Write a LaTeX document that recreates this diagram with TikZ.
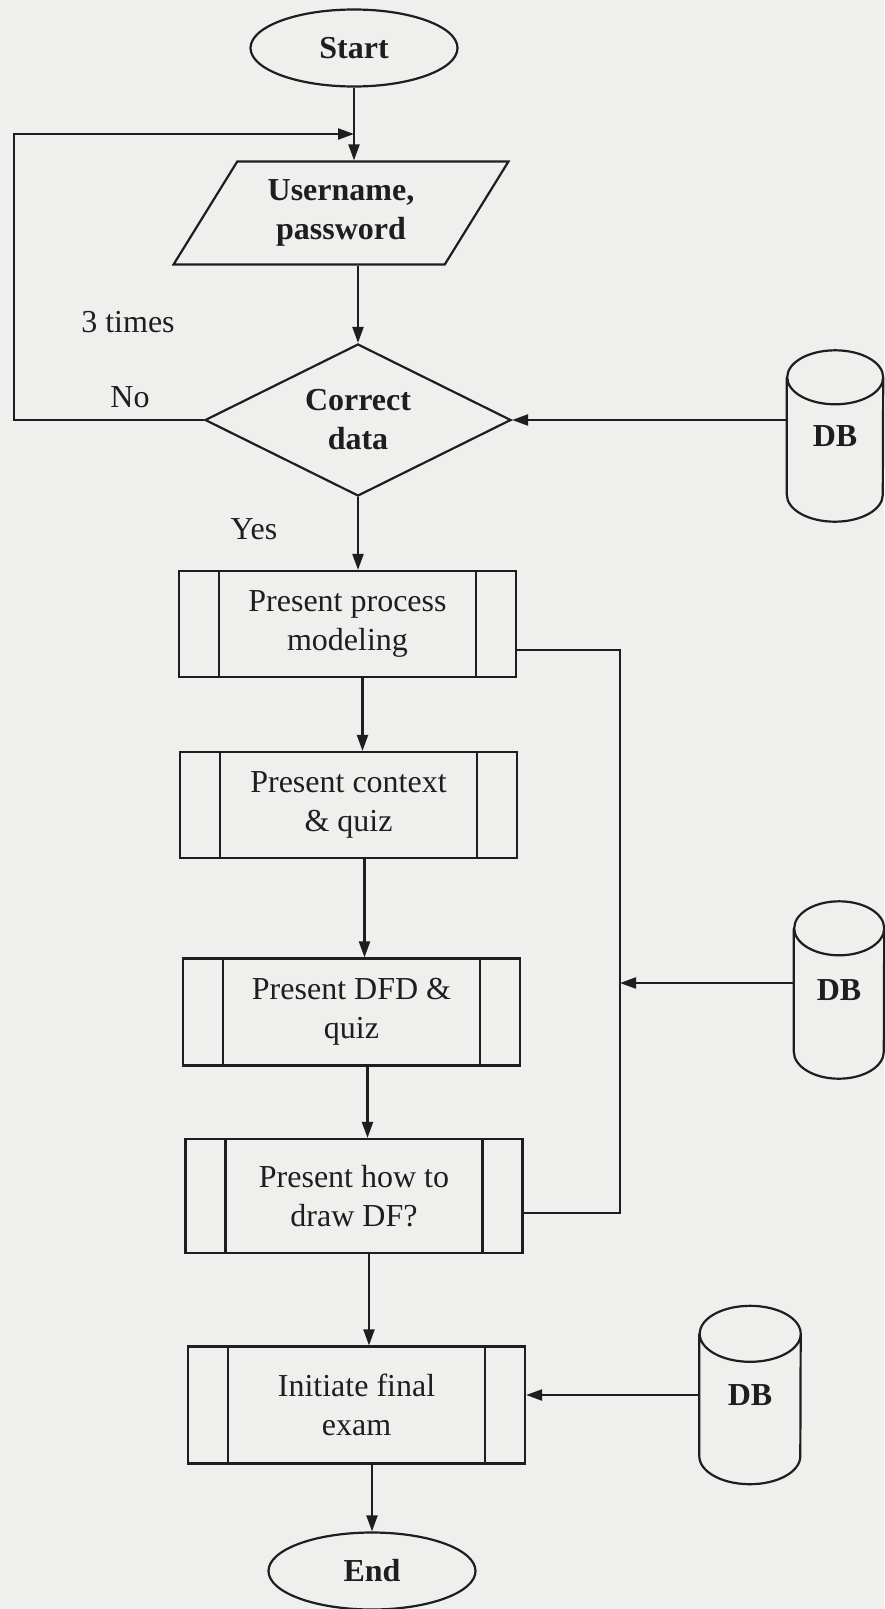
\documentclass[tikz,border=0pt]{standalone}
\usepackage{fontspec}
\setmainfont{Liberation Serif}
\usetikzlibrary{shapes.geometric,arrows.meta,calc}
\definecolor{paper}{RGB}{239,239,237}
\definecolor{ink}{RGB}{30,30,30}
\newcommand\dbcyl[3]{%
  \draw[line] ([yshift=-#3]#1.north west) -- ([yshift=#3]#1.south west)
    arc[start angle=180,end angle=360,x radius=#2,y radius=#3]
    -- ([yshift=-#3]#1.north east)
    arc[start angle=0,end angle=360,x radius=#2,y radius=#3];}
\begin{document}
\begin{tikzpicture}[x=1pt,y=-1pt,
  line/.style={draw=ink,line width=2.2pt},
  arr/.style={line,-{Triangle[length=16pt,width=11pt]}},
  txt/.style={text=ink,font=\fontsize{32}{39}\selectfont,align=center},
  btxt/.style={text=ink,font=\fontsize{32}{39}\selectfont\bfseries,align=center},
  term/.style={ellipse,line,btxt,minimum width=207pt,minimum height=77pt,inner sep=0pt},
  io/.style={trapezium,trapezium left angle=56,trapezium right angle=124,
    trapezium stretches=true,line,btxt,minimum width=336pt,minimum height=103pt,inner sep=0pt},
  decision/.style={diamond,aspect=2,line,btxt,minimum width=306pt,minimum height=152pt,inner sep=0pt},
  proc/.style={rectangle,line,txt,minimum width=337pt,minimum height=106pt,inner sep=0pt,
    path picture={
      \draw[line] ([xshift=40pt]path picture bounding box.north west) -- ([xshift=40pt]path picture bounding box.south west);
      \draw[line] ([xshift=-40pt]path picture bounding box.north east) -- ([xshift=-40pt]path picture bounding box.south east);}},
  dbnode/.style={btxt,minimum width=96pt,minimum height=171pt,inner sep=0pt},
]
\fill[paper] (0,0) rectangle (884,1609);
\useasboundingbox (0,0) rectangle (884,1609);

% main flow
\node[term] (start) at (354,48) {Start};
\node[io] (user) at (341,213) {Username,\\password};
\node[decision] (cd) at (358,420) {Correct\\data};
\node[proc] (b1) at (347.5,624) {Present process\\modeling};
\node[proc] (b2) at (348.5,805) {Present context\\\& quiz};
\node[proc,minimum height=107pt] (b3) at (351.5,1012) {Present DFD \&\\quiz};
\node[proc,minimum height=114pt] (b4) at (354,1196) {Present how to\\draw DF?};
\node[proc,minimum height=117pt] (b5) at (356.5,1405) {Initiate final\\exam};
\node[term] (end) at (372,1571) {End};

% databases
\node[dbnode] (db1) at (835,436) {DB};
\node[dbnode,minimum width=90pt,minimum height=177pt] (db2) at (839,990) {DB};
\node[dbnode,minimum width=101pt,minimum height=178pt] (db3) at (750,1395) {DB};
\dbcyl{db1}{48pt}{27pt}
\dbcyl{db2}{45pt}{27pt}
\dbcyl{db3}{50.5pt}{28pt}

% labels
\node[txt] (times) at (128,322) {3 times};
\node[txt] (no) at (130,397) {No};
\node[txt] (yes) at (254,529) {Yes};

% connectors
\draw[arr] (start) -- (start |- user.north);
\draw[arr] (cd.north |- user.south) -- (cd.north);
\coordinate (lpc) at (14,134);
\coordinate (lpin) at (354,134);
\draw[arr] (cd.west) -| (lpc) -- (lpin);
\draw[arr] (cd.south) -- (cd.south |- b1.north);
\draw[arr] ([xshift=15pt]b1.south) -- ([xshift=15pt]b1.south |- b2.north);
\draw[arr] ([xshift=16pt]b2.south) -- ([xshift=16pt]b2.south |- b3.north);
\draw[arr] ([xshift=16pt]b3.south) -- ([xshift=16pt]b3.south |- b4.north);
\draw[arr] ([xshift=15pt]b4.south) -- ([xshift=15pt]b4.south |- b5.north);
\draw[arr] (b5.south -| end.north) -- (end.north);
\draw[arr] (cd.east -| db1.west) -- (cd.east);

\coordinate (v1) at (620,650);
\coordinate (v2) at (620,1213);
\draw[line] (b1.east |- v1) -- (v1) -- (v2) -- (b4.east |- v2);
\coordinate (j2) at (620,983);
\draw[arr] (j2 -| db2.west) -- (j2);
\draw[arr] (db3.west) -- (db3.west -| b5.east);
\end{tikzpicture}
\end{document}
